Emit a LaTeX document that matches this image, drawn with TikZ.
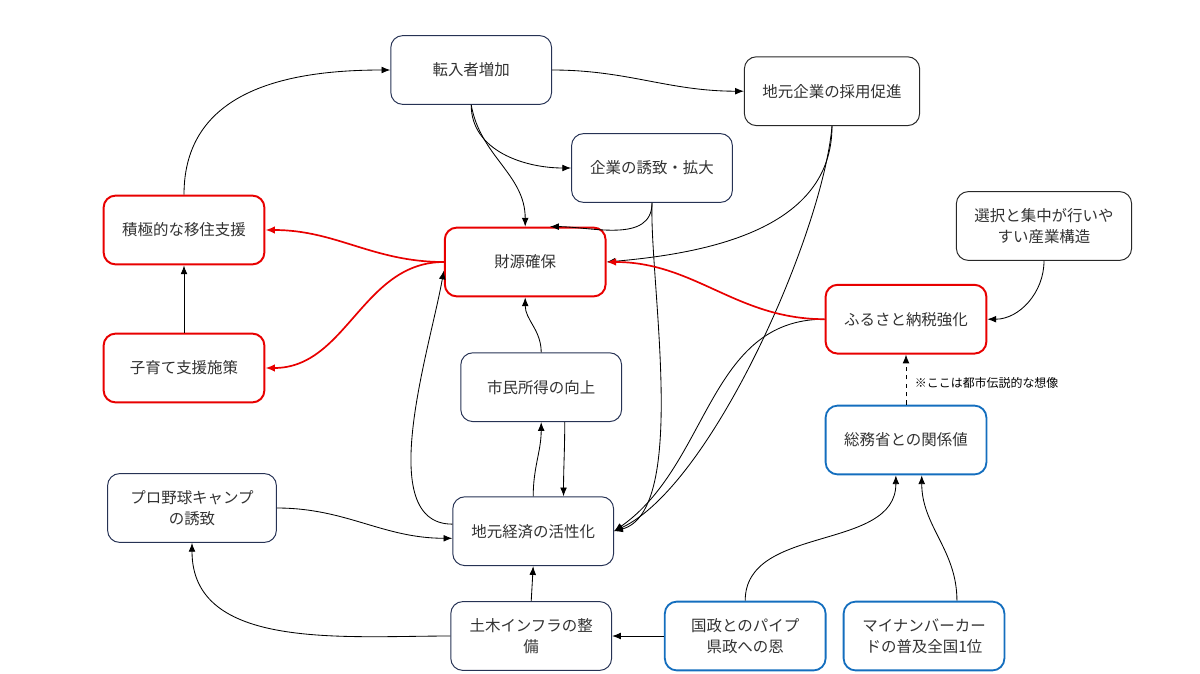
\documentclass[tikz,border=0pt]{standalone}
\usepackage{fontspec}
\newfontfamily\jpfont{Noto Sans CJK JP}
\usetikzlibrary{arrows.meta}
\definecolor{boxnavy}{RGB}{38,50,84}
\definecolor{boxblack}{RGB}{40,40,40}
\definecolor{boxred}{RGB}{232,0,0}
\definecolor{boxblue}{RGB}{20,110,190}
\definecolor{txtgray}{RGB}{50,50,50}
\tikzset{
  box/.style={rectangle, rounded corners=0.3cm, draw=boxnavy, line width=0.7pt, minimum width=4.02cm, minimum height=1.72cm, align=center, text=txtgray, font=\jpfont\fontsize{11}{15}\selectfont},
  redbox/.style={box, draw=boxred, line width=1.4pt},
  bluebox/.style={box, draw=boxblue, line width=1.3pt},
  blackbox/.style={box, draw=boxblack},
  arr/.style={-{Latex[length=2.2mm,width=1.7mm]}, line width=0.6pt, black},
  redarr/.style={-{Latex[length=2.4mm,width=1.9mm]}, line width=1.2pt, boxred}
}
\begin{document}
\begin{tikzpicture}
\useasboundingbox (0,0) rectangle (30,-16.825);

\node [box] (v1) at (11.78,-1.75) {転入者増加};
\node [blackbox, minimum width=4.38cm] (v2) at (20.8,-2.28) {地元企業の採用促進};
\node [box] (v3) at (16.3,-4.2) {企業の誘致・拡大};
\node [redbox] (v4) at (4.6,-5.75) {積極的な移住支援};
\node [redbox] (v5) at (13.13,-6.55) {財源確保};
\node [blackbox, minimum width=4.38cm] (v6) at (26.1,-5.65) {選択と集中が行いや\\すい産業構造};
\node [redbox] (v7) at (22.65,-7.98) {ふるさと納税強化};
\node [redbox] (v8) at (4.6,-9.2) {子育て支援施策};
\node [box] (v9) at (13.53,-9.68) {市民所得の向上};
\node [bluebox] (v10) at (22.65,-11.0) {総務省との関係値};
\node [box, minimum width=4.22cm] (v11) at (4.8,-12.7) {プロ野球キャンプ\\の誘致};
\node [box] (v12) at (13.33,-13.28) {地元経済の活性化};
\node [box] (v13) at (13.28,-15.9) {土木インフラの整\\備};
\node [bluebox] (v14) at (18.63,-15.9) {国政とのパイプ\\県政への恩};
\node [bluebox] (v15) at (23.1,-15.9) {マイナンバーカー\\ドの普及全国1位};

\draw [arr] (v4.north) to [out=90, in=180, looseness=1.1] (v1.west);
\draw [arr] (v1.east) to [out=0, in=180] (v2.west);
\draw [arr] (v1.south) to [out=-90, in=180] (v3.west);
\draw [arr] (v1.south) to [out=-80, in=90] (v5.north);
\draw [arr] (v3.south) to [out=-90, in=0] (v5.55);
\draw [arr] (v3.south) to [out=-92, in=15, looseness=0.6] (v12.east);
\draw [arr] (v2.south) to [out=-90, in=5] (v5.east);
\draw [arr] (v2.south) to [out=-95, in=25, looseness=0.6] (v12.east);
\draw [arr] (v7.west) to [out=180, in=35] (v12.east);
\draw [redarr] (v7.west) to [out=180, in=0] (v5.east);
\draw [arr] (v6.south) to [out=-90, in=0] (v7.east);
\draw [arr, dashed] (v10.north) -- (v7.south);
\node [font=\jpfont\fontsize{8.5}{10}\selectfont, text=black, anchor=west] (note) at (22.75,-9.58) {※ここは都市伝説的な想像};

\draw [redarr] (v5.west) to [out=180, in=0] (v4.east);
\draw [redarr] (v5.west) to [out=180, in=0] (v8.east);
\draw [arr] (v8.north) -- (v4.south);
\draw [arr] (v9.north) to [out=90, in=-90] (v5.south);
\draw [arr] (v12.north) to [out=90, in=-90] (v9.south);
\draw [arr] (v9.-56) to [out=-90, in=90] (v12.49);
\draw [arr] (v12.175) to [out=180, in=-100, looseness=0.8] (v5.186);
\draw [arr] (v11.east) to [out=0, in=180] (v12.185);
\draw [arr] (v13.west) to [out=180, in=-90] (v11.south);
\draw [arr] (v13.north) -- (v12.south);
\draw [arr] (v14.west) -- (v13.east);
\draw [arr] (v14.north) to [out=90, in=-90] (v10.-106);
\draw [arr] (v15.47) to [out=90, in=-90] (v10.-66);

\end{tikzpicture}
\end{document}
